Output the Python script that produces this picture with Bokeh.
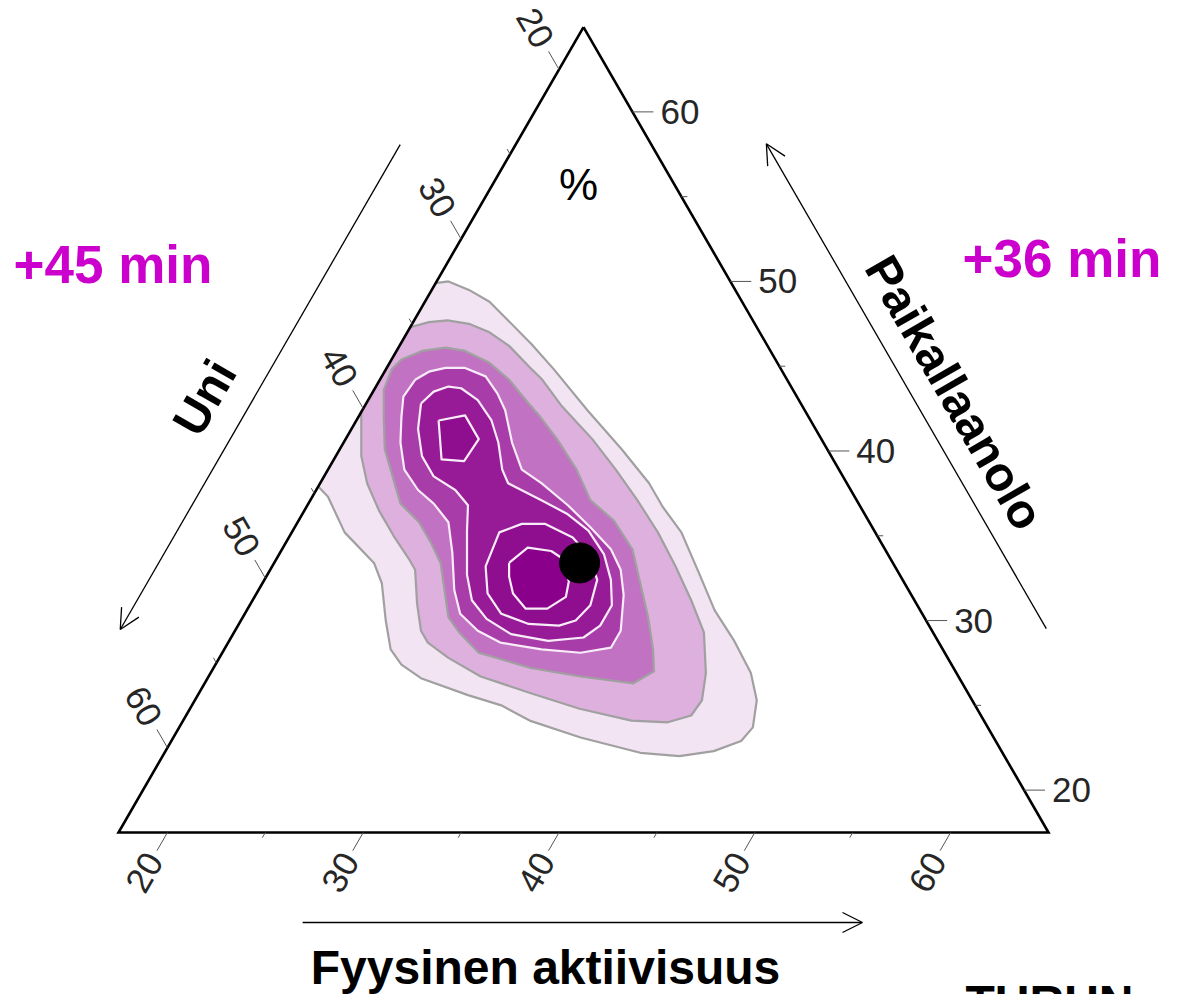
import math

from bokeh.core.properties import value
from bokeh.embed import file_html
from bokeh.models import Arrow, Label, OpenHead, Range1d
from bokeh.plotting import figure
from bokeh.resources import INLINE

# Shared limits of the zoomed simplex: every component runs from 17.5 % to 65 %
LO, SPAN = 17.5, 47.5
ticks_major = [20, 30, 40, 50, 60]
ticks_minor = [25, 35, 45, 55]

# Density contours, outermost first, as compositions in percent.
# fyys = Fyysinen aktiivisuus, paik = Paikallaanolo, Uni = 100 - fyys - paik
lvl1_fyys = [17.5, 18.1, 19.4, 20.8, 22.3, 24.2, 26.1, 29.0, 31.9, 34.3, 35.7, 37.4,
             39.5, 41.4, 43.3, 45.1, 46.2, 46.8, 46.6, 45.5, 43.9, 41.8, 38.3, 35.2,
             33.3, 31.3, 28.4, 27.0, 26.0, 24.9, 23.6, 22.6, 20.2, 18.3, 17.5]
lvl1_paik = [49.9, 50.0, 49.5, 48.8, 47.7, 46.3, 44.8, 42.4, 40.1, 38.1, 36.7, 35.2,
             32.8, 30.6, 28.8, 26.9, 25.3, 23.7, 22.9, 22.3, 22.0, 22.2, 23.1, 24.1,
             25.0, 25.6, 26.6, 27.4, 28.3, 30.0, 32.2, 33.4, 35.2, 37.3, 37.9]

lvl2_fyys = [17.5, 18.3, 19.2, 20.4, 21.7, 23.1, 24.7, 25.8, 27.5, 30.1, 32.2, 34.2,
             36.2, 38.1, 39.9, 41.5, 42.8, 43.4, 43.3, 42.3, 40.4, 37.4, 34.5, 31.4,
             29.2, 27.7, 27.0, 26.0, 24.9, 24.3, 22.9, 21.3, 19.9, 18.8, 18.0, 17.5]
lvl2_paik = [47.3, 47.6, 47.7, 47.5, 47.0, 46.2, 45.0, 44.2, 42.7, 40.7, 38.9, 37.1,
             35.2, 33.2, 31.2, 29.3, 26.9, 25.3, 24.4, 24.0, 24.1, 24.8, 25.7, 26.7,
             27.8, 28.7, 29.4, 31.0, 33.0, 33.6, 34.9, 36.5, 38.1, 39.7, 41.3, 42.3]

lvl3_fyys = [18.0, 18.8, 19.9, 21.0, 22.6, 24.1, 25.8, 26.8, 28.3, 30.2, 31.8, 33.6,
             35.4, 36.8, 38.2, 39.4, 40.1, 39.4, 36.5, 33.7, 30.6, 29.0, 28.0, 27.0,
             26.0, 24.9, 23.7, 22.2, 21.0, 19.8, 18.8, 18.0, 17.8]
lvl3_paik = [45.4, 45.9, 46.1, 45.9, 45.2, 44.2, 42.8, 42.0, 40.7, 38.9, 37.1, 35.9,
             34.2, 32.2, 30.2, 28.3, 27.0, 26.3, 26.7, 27.2, 28.1, 29.3, 30.2, 31.8,
             33.4, 34.6, 35.8, 36.9, 38.5, 40.1, 42.0, 43.6, 44.8]

lvl4_fyys = [19.3, 19.8, 20.5, 21.5, 22.8, 23.9, 24.8, 26.1, 27.4, 28.8, 30.8, 32.6,
             34.3, 35.4, 36.3, 37.2, 37.2, 35.8, 33.7, 31.4, 29.9, 28.5, 27.5, 26.3,
             25.2, 23.9, 22.7, 21.4, 20.4, 19.7, 19.2]
lvl4_paik = [44.2, 44.7, 44.9, 44.9, 44.4, 43.4, 42.4, 40.5, 38.9, 38.1, 36.8, 35.5,
             34.2, 33.0, 31.5, 29.4, 28.4, 28.1, 28.3, 28.7, 29.4, 30.4, 31.8, 34.0,
             35.8, 36.9, 37.7, 38.9, 40.5, 42.0, 43.2]

lvl5_fyys = [20.3, 20.6, 21.2, 21.9, 23.1, 24.4, 25.4, 26.4, 27.1, 29.3, 31.0, 32.6,
             34.1, 35.2, 36.0, 36.0, 35.5, 33.8, 31.7, 30.0, 28.7, 27.7, 27.1, 26.4,
             25.7, 24.6, 23.1, 21.9, 20.9]
lvl5_paik = [42.8, 43.5, 43.8, 43.7, 43.0, 41.8, 40.5, 38.9, 38.1, 37.1, 36.3, 35.3,
             33.9, 32.4, 30.9, 29.7, 29.0, 28.8, 29.2, 30.1, 31.2, 32.7, 33.9, 35.3,
             36.8, 37.7, 38.5, 39.7, 41.3]

lvl6a_fyys = [21.7, 22.9, 24.3, 24.2, 23.0]
lvl6a_paik = [41.8, 42.1, 40.7, 39.4, 39.5]
lvl6b_fyys = [28.4, 28.1, 29.0, 30.2, 32.0, 33.4, 34.5, 34.9, 34.6, 33.9, 32.3, 30.6, 29.3]
lvl6b_paik = [33.2, 35.2, 35.7, 35.7, 34.9, 33.8, 32.4, 30.9, 30.0, 29.7, 29.8, 30.4, 31.6]

lvl7_fyys = [29.5, 30.0, 31.3, 32.2, 33.1, 33.4, 32.8, 31.7, 30.6, 29.9]
lvl7_paik = [33.4, 34.3, 34.1, 33.6, 32.3, 31.4, 30.7, 30.7, 31.6, 32.6]

# Marked composition
point_uni, point_paik, point_fyys = 33.5, 33.4, 33.1

FILLS = ["#F3E4F3", "#DDB0DD", "#C272C2", "#A83CA8", "#971B97", "#8F0D8F", "#8B008B"]
GRAY_LINE = "#A0A0A0"
WHITE_LINE = "#F8ECF8"
FONT_NAME = "Liberation Sans"
FONT = value(FONT_NAME)

S3 = math.sqrt(3) / 2
PX = 1 / 930  # one screen pixel expressed in triangle-side units


def tern(fyys, paik):
    a = (paik - LO) / SPAN
    c = (fyys - LO) / SPAN
    return c + a / 2, a * S3


def project(fs, ps):
    pts = [tern(f, q) for f, q in zip(fs, ps)]
    return [x for x, _ in pts], [y for _, y in pts]


def scr(xpx, ypx):
    return (xpx - 118) * PX, (832 - ypx) * PX


p = figure(width=1188, height=994,
           x_range=Range1d(-118 * PX, 1070 * PX),
           y_range=Range1d(-162 * PX, 832 * PX),
           min_border=0, toolbar_location=None, output_backend="svg",
           x_axis_location=None, y_axis_location=None)
p.grid.visible = False
p.outline_line_color = None
p.background_fill_color = "white"
p.border_fill_color = "white"

# filled density bands
levels = [
    (lvl1_fyys, lvl1_paik, 0, False),
    (lvl2_fyys, lvl2_paik, 1, False),
    (lvl3_fyys, lvl3_paik, 2, True),
    (lvl4_fyys, lvl4_paik, 3, True),
    (lvl5_fyys, lvl5_paik, 4, True),
    (lvl6a_fyys, lvl6a_paik, 5, True),
    (lvl6b_fyys, lvl6b_paik, 5, True),
    (lvl7_fyys, lvl7_paik, 6, True),
]
for fs, ps, k, _ in levels:
    xs, ys = project(fs, ps)
    p.patch(xs, ys, fill_color=FILLS[k], line_color=None)

# contour lines (the two outer bands are cut by the Uni edge, so no closing segment)
for fs, ps, k, closed in levels:
    xs, ys = project(fs, ps)
    if closed:
        xs, ys = xs + xs[:1], ys + ys[:1]
    p.line(xs, ys, line_color=GRAY_LINE if k < 3 else WHITE_LINE,
           line_width=2.2, line_join="round")

# triangle frame
hi = LO + SPAN
corners = [tern(LO, hi), tern(LO, LO), tern(hi, LO)]
fx = [c[0] for c in corners] + [corners[0][0]]
fy = [c[1] for c in corners] + [corners[0][1]]
p.line(fx, fy, line_color="black", line_width=2.6, line_join="miter")

# ticks and tick labels
TICK_LEN, MINOR_LEN = 21 * PX, 6 * PX
x0, y0, x1, y1 = [], [], [], []
lab_x, lab_y, lab_t, lab_a = [], [], [], []
r_x, r_y, r_t = [], [], []


def add_tick(bx, by, dx, dy, length):
    x0.append(bx); y0.append(by)
    x1.append(bx + dx * length); y1.append(by + dy * length)


for v in ticks_major + ticks_minor:
    f = (v - LO) / SPAN
    major = v in ticks_major
    ln = TICK_LEN if major else MINOR_LEN
    # bottom axis: Fyysinen aktiivisuus
    bx, by = f, 0.0
    add_tick(bx, by, -0.5, -S3, ln)
    if major:
        lab_x.append(bx - 0.5 * 46 * PX); lab_y.append(by - S3 * 46 * PX)
        lab_t.append(str(v)); lab_a.append(math.pi / 3)
    # left axis: Uni
    a = 1 - f
    bx, by = a / 2, a * S3
    add_tick(bx, by, -0.5, S3, ln)
    if major:
        lab_x.append(bx - 0.5 * 48 * PX); lab_y.append(by + S3 * 48 * PX)
        lab_t.append(str(v)); lab_a.append(-math.pi / 3)
    # right axis: Paikallaanolo
    bx, by = 1 - f / 2, f * S3
    add_tick(bx, by, 1.0, 0.0, ln)
    if major:
        r_x.append(bx + 28 * PX); r_y.append(by); r_t.append(str(v))

p.segment(x0, y0, x1, y1, line_color="#555555", line_width=1)
p.text(lab_x, lab_y, text=lab_t, angle=lab_a, text_align="center",
       text_baseline="middle", text_font=FONT, text_font_size="35px",
       text_color="#262626")
p.text(r_x, r_y, text=r_t, text_align="left", text_baseline="middle",
       text_font=FONT, text_font_size="35px", text_color="#262626")


# direction arrows beside each axis
def edge_arrow(p0, p1, normal, offset, t0, t1):
    sx = p0[0] + t0 * (p1[0] - p0[0]) + normal[0] * offset
    sy = p0[1] + t0 * (p1[1] - p0[1]) + normal[1] * offset
    ex = p0[0] + t1 * (p1[0] - p0[0]) + normal[0] * offset
    ey = p0[1] + t1 * (p1[1] - p0[1]) + normal[1] * offset
    p.add_layout(Arrow(end=OpenHead(size=20, line_width=1.3, line_color="black"),
                       x_start=sx, y_start=sy, x_end=ex, y_end=ey,
                       line_width=1.3, line_color="black"))


apex, left_c, right_c = corners
edge_arrow(apex, left_c, (-S3, 0.5), 100 * PX, 0.208, 0.81)
edge_arrow(apex, right_c, (S3, 0.5), 100 * PX, 0.809, 0.207)
edge_arrow(left_c, right_c, (0.0, -1.0), 90 * PX, 0.198, 0.80)

# marked composition
mx, my = tern(point_fyys, point_paik)
p.scatter([mx], [my], size=40, color="black")


def label(xpx, ypx, text, size, angle=0.0, color="black", bold=True,
          align="center", baseline="middle"):
    x, y = scr(xpx, ypx)
    p.text([x], [y], text=[text], angle=math.radians(angle), text_align=align,
           text_baseline=baseline, text_font=FONT, text_font_size=f"{size}px",
           text_font_style="bold" if bold else "normal", text_color=color)


label(204, 397, "Uni", 48, angle=60)
label(954, 392, "Paikallaanolo", 48, angle=-60)
label(545, 967, "Fyysinen aktiivisuus", 48)
label(578, 184, "%", 44, bold=False)
label(13, 264, "+45 min", 53, color="#CC00CC", align="left")
label(962, 258, "+36 min", 53, color="#CC00CC", align="left")

# university wordmark running off the lower edge
lx, ly = scr(965, 975)
p.add_layout(Label(x=lx, y=ly, text="TURUN", text_font=FONT_NAME,
                   text_font_size="48px", text_font_style="bold",
                   text_color="black", text_baseline="top"))

html = file_html(p, INLINE, title="Ternaarinen kuvio")
html = html.replace("<head>", "<head><style>html,body{margin:0;padding:0;}</style>", 1)
open("out.html", "w").write(html)
